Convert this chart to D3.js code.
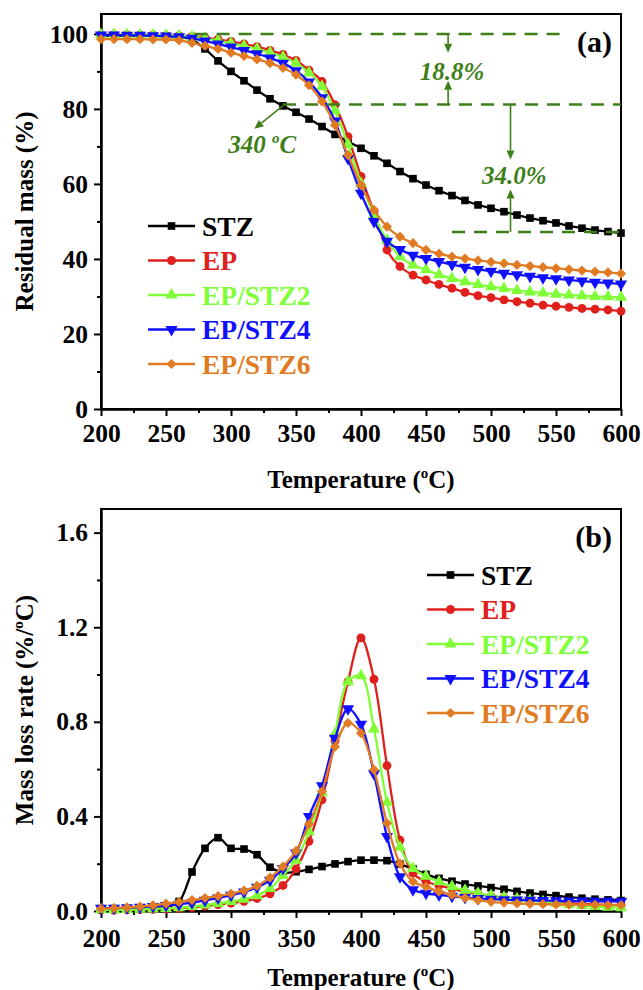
<!DOCTYPE html>
<html>
<head>
<meta charset="utf-8">
<script src="https://cdn.jsdelivr.net/npm/d3@7"></script>
<style>
  html, body { margin: 0; padding: 0; background: #fff; }
  svg text { font-family: "Liberation Serif", "Times New Roman", serif; font-weight: bold; }
</style>
</head>
<body>
<svg id="chart" width="643" height="990"></svg>
<script>
// Temperatures (°C) at which each curve was sampled
const temps = [200,210,220,230,240,250,260,270,280,290,300,310,320,330,340,350,360,370,380,390,400,
               410,420,430,440,450,460,470,480,490,500,510,520,530,540,550,560,570,580,590,600];

const seriesNames = ["STZ", "EP", "EP/STZ2", "EP/STZ4", "EP/STZ6"];

// (a) Residual mass (%)
const massSTZ   = [99.5,99.5,99.5,99.5,99.5,99.4,99.2,98.4,96.0,92.8,90.0,87.5,85.0,82.7,80.8,79.1,77.3,75.3,73.2,71.3,69.5,
                   67.5,65.5,63.3,61.4,59.7,58.2,56.9,55.6,54.4,53.5,52.6,51.7,50.9,50.2,49.6,48.8,48.2,47.7,47.3,46.9];
const massEP    = [99.8,99.8,99.8,99.7,99.7,99.6,99.5,99.3,99.0,98.5,98.0,97.3,96.6,95.6,94.5,92.9,90.3,87.3,81.1,72.6,62.0,
                   52.5,42.4,38.0,35.7,34.4,33.2,32.2,31.1,30.2,29.7,29.1,28.6,28.2,27.7,27.4,27.1,26.8,26.6,26.4,26.1];
const massSTZ2  = [99.8,99.8,99.8,99.7,99.7,99.6,99.5,99.2,98.8,98.2,97.5,96.8,96.0,95.0,93.8,92.2,89.6,86.0,79.5,70.5,60.2,
                   51.7,45.0,40.6,38.4,37.1,35.8,34.8,33.9,33.2,32.6,32.1,31.6,31.2,30.9,30.6,30.4,30.2,30.0,29.9,29.8];
const massSTZ4  = [99.7,99.7,99.6,99.6,99.5,99.4,99.2,98.8,98.1,97.3,96.5,95.6,94.7,93.6,92.2,90.2,87.2,83.0,76.8,66.8,57.5,
                   50.0,44.7,42.5,41.0,40.1,39.3,38.5,37.8,37.2,36.7,36.2,35.8,35.4,35.0,34.7,34.4,34.1,33.8,33.6,33.3];
const massSTZ6  = [98.6,98.6,98.6,98.6,98.5,98.5,98.3,97.6,96.8,96.0,95.0,94.1,93.2,92.2,90.9,89.1,86.3,82.0,75.7,67.7,59.7,
                   53.1,48.6,45.9,44.2,42.4,41.4,40.6,40.1,39.6,39.2,38.8,38.4,38.1,37.8,37.5,37.2,36.9,36.6,36.4,36.1];

// (b) Mass loss rate (%/°C)
const rateSTZ   = [0.010,0.010,0.010,0.010,0.010,0.015,0.040,0.165,0.265,0.310,0.265,0.262,0.238,0.185,0.163,0.166,0.176,0.188,0.199,0.209,0.215,
                   0.215,0.213,0.198,0.178,0.155,0.138,0.126,0.114,0.106,0.099,0.092,0.083,0.076,0.070,0.065,0.059,0.054,0.050,0.047,0.044];
const rateEP    = [0.004,0.004,0.005,0.006,0.007,0.009,0.011,0.015,0.021,0.027,0.033,0.041,0.053,0.073,0.108,0.178,0.295,0.470,0.720,0.970,1.155,
                   0.980,0.615,0.300,0.160,0.125,0.108,0.094,0.082,0.072,0.063,0.056,0.050,0.045,0.040,0.036,0.033,0.030,0.028,0.026,0.025];
const rateSTZ2  = [0.005,0.005,0.006,0.007,0.009,0.011,0.014,0.019,0.025,0.032,0.040,0.050,0.065,0.095,0.150,0.215,0.335,0.500,0.750,0.970,0.995,
                   0.770,0.460,0.270,0.180,0.147,0.124,0.103,0.088,0.075,0.065,0.058,0.052,0.045,0.039,0.033,0.028,0.023,0.019,0.016,0.014];
const rateSTZ4  = [0.012,0.012,0.014,0.016,0.019,0.023,0.028,0.035,0.045,0.055,0.067,0.080,0.100,0.130,0.180,0.245,0.400,0.530,0.730,0.855,0.790,
                   0.580,0.315,0.145,0.090,0.075,0.068,0.062,0.057,0.053,0.050,0.048,0.046,0.045,0.044,0.043,0.042,0.042,0.041,0.041,0.040];
const rateSTZ6  = [0.010,0.012,0.015,0.019,0.024,0.031,0.038,0.046,0.055,0.063,0.073,0.086,0.106,0.141,0.188,0.254,0.367,0.505,0.695,0.795,0.752,
                   0.597,0.371,0.200,0.124,0.103,0.082,0.068,0.055,0.046,0.039,0.035,0.032,0.030,0.029,0.028,0.027,0.026,0.026,0.025,0.025];

// Axis ticks
const xTicks      = [200,250,300,350,400,450,500,550,600];
const xMinorTicks = [225,275,325,375,425,475,525,575];
const yTicksA      = [0,20,40,60,80,100];
const yMinorTicksA = [10,30,50,70,90];
const yTicksB      = [0.0,0.4,0.8,1.2,1.6];
const yMinorTicksB = [0.2,0.6,1.0,1.4];

// Annotation levels in panel (a)
const massLossStep1 = 18.8;
const massLossStep2 = 34.0;
const onsetTemp = 340;

const colors  = ["#000000", "#e0201c", "#80ff38", "#1010ff", "#e07b24"];
const symbols = ["square", "circle", "triangle", "triangleDown", "diamond"];
const annColor = "#3f7f1a";

const svg = d3.select("#chart");
const left = 101, right = 621;

function symbolPath(kind) {
  switch (kind) {
    case "square":       return d3.symbol(d3.symbolSquare, 58)();
    case "circle":       return d3.symbol(d3.symbolCircle, 62)();
    case "triangle":     return d3.symbol(d3.symbolTriangle, 64)();
    case "triangleDown": return d3.symbol(d3.symbolTriangle, 64)();
    case "diamond":      return d3.symbol(d3.symbolSquare, 52)();
  }
}
function symbolRotate(kind) {
  if (kind === "triangleDown") return 180;
  if (kind === "diamond") return 45;
  return 0;
}

function drawPanel(cfg) {
  const x = d3.scaleLinear().domain([200, 600]).range([left, right]);
  const y = d3.scaleLinear().domain(cfg.yDomain).range([cfg.bottom, cfg.top]);
  const g = svg.append("g");

  // frame
  g.append("rect").attr("x", left).attr("y", cfg.top)
    .attr("width", right - left).attr("height", cfg.bottom - cfg.top)
    .attr("fill", "none").attr("stroke", "#000").attr("stroke-width", 2);

  // bottom axis
  const xa = g.append("g").attr("transform", `translate(0,${cfg.bottom})`)
    .call(d3.axisBottom(x).tickValues(xTicks).tickSize(7).tickSizeOuter(0).tickPadding(cfg.xPad));
  const xm = g.append("g").attr("transform", `translate(0,${cfg.bottom})`)
    .call(d3.axisBottom(x).tickValues(xMinorTicks).tickSize(4).tickSizeOuter(0).tickFormat(""));
  // left axis
  const ya = g.append("g").attr("transform", `translate(${left},0)`)
    .call(d3.axisLeft(y).tickValues(cfg.yTicks).tickSize(7).tickSizeOuter(0).tickPadding(6).tickFormat(cfg.yFormat));
  const ym = g.append("g").attr("transform", `translate(${left},0)`)
    .call(d3.axisLeft(y).tickValues(cfg.yMinor).tickSize(4).tickSizeOuter(0).tickFormat(""));
  [xa, xm, ya, ym].forEach(a => {
    a.select(".domain").attr("stroke-width", 2);
    a.selectAll(".tick line").attr("stroke-width", 2);
    a.selectAll("text").attr("font-size", 25.5).attr("fill", "#000")
      .style("font-family", "'Liberation Serif','Times New Roman',serif").style("font-weight", "bold");
  });

  // axis titles
  const xt = g.append("text").attr("x", (left + right) / 2).attr("y", cfg.xTitleY)
    .attr("text-anchor", "middle").attr("font-size", 25);
  xt.append("tspan").text("Temperature (");
  xt.append("tspan").text("o").attr("font-size", 15).attr("dy", -10);
  xt.append("tspan").text("C)").attr("dy", 10);

  const ytg = g.append("g").attr("transform", `translate(33,${(cfg.top + cfg.bottom) / 2}) rotate(-90)`);
  const yt = ytg.append("text").attr("text-anchor", "middle").attr("font-size", 25);
  cfg.yTitle(yt);

  // panel tag
  g.append("text").attr("x", 612).attr("y", cfg.top + 38).attr("text-anchor", "end")
    .attr("font-size", 30).text(cfg.tag);

  // curves
  const clipId = "clip" + cfg.tag.replace(/\W/g, "");
  svg.append("clipPath").attr("id", clipId).append("rect")
    .attr("x", left - 6).attr("y", cfg.top).attr("width", right - left + 12).attr("height", cfg.bottom - cfg.top + 6);
  const plot = g.append("g").attr("clip-path", `url(#${clipId})`);
  const line = d3.line().x(d => x(d[0])).y(d => y(d[1])).curve(cfg.curve);

  cfg.series.forEach((vals, i) => {
    const pts = temps.map((t, k) => [t, vals[k]]);
    plot.append("path").datum(pts).attr("d", line)
      .attr("fill", "none").attr("stroke", colors[i]).attr("stroke-width", 2.3);
    plot.selectAll(null).data(pts).enter().append("path")
      .attr("d", symbolPath(symbols[i]))
      .attr("transform", d => `translate(${x(d[0])},${y(d[1])}) rotate(${symbolRotate(symbols[i])})`)
      .attr("fill", colors[i]);
  });

  // legend
  const lg = g.append("g").attr("transform", `translate(${cfg.legendX},${cfg.legendY})`);
  seriesNames.forEach((name, i) => {
    const row = lg.append("g").attr("transform", `translate(0,${i * 34.5})`);
    row.append("line").attr("x1", 0).attr("x2", 47).attr("y1", 0).attr("y2", 0)
      .attr("stroke", colors[i]).attr("stroke-width", 2.3);
    row.append("path").attr("d", symbolPath(symbols[i]))
      .attr("transform", `translate(23.5,0) rotate(${symbolRotate(symbols[i])})`)
      .attr("fill", colors[i]);
    row.append("text").attr("x", 54).attr("y", 9.5).attr("font-size", 27.5)
      .attr("fill", colors[i]).text(name);
  });

  return { g, x, y };
}

// Panel (a)
const A = drawPanel({
  top: 14, bottom: 409, yDomain: [0, 105.3],
  yTicks: yTicksA, yMinor: yMinorTicksA, yFormat: d3.format("d"),
  xPad: 8, xTitleY: 488, tag: "(a)",
  yTitle: t => t.text("Residual mass (%)"),
  curve: d3.curveMonotoneX,
  series: [massSTZ, massEP, massSTZ2, massSTZ4, massSTZ6],
  legendX: 148, legendY: 226
});

// Panel (b)
const B = drawPanel({
  top: 509, bottom: 911, yDomain: [0, 1.7],
  yTicks: yTicksB, yMinor: yMinorTicksB, yFormat: d3.format(".1f"),
  xPad: 11, xTitleY: 986, tag: "(b)",
  yTitle: t => {
    t.append("tspan").text("Mass loss rate (%/");
    t.append("tspan").text("o").attr("font-size", 15).attr("dy", -10);
    t.append("tspan").text("C)").attr("dy", 10);
  },
  curve: d3.curveCatmullRom.alpha(0.5),
  series: [rateSTZ, rateEP, rateSTZ2, rateSTZ4, rateSTZ6],
  legendX: 427, legendY: 575
});

// Annotations in panel (a): mass loss steps
(function () {
  const { g, x, y } = A;
  const lvl0 = 100, lvl1 = lvl0 - massLossStep1, lvl2 = lvl1 - massLossStep2;
  const ann = g.append("g");
  const dash = (t0, t1, v) => ann.append("line")
    .attr("x1", x(t0)).attr("x2", x(t1)).attr("y1", y(v)).attr("y2", y(v))
    .attr("stroke", annColor).attr("stroke-width", 2.5).attr("stroke-dasharray", "13,9");
  dash(272, 555, lvl0);
  dash(onsetTemp, 600, lvl1);
  dash(470, 600, lvl2);

  // arrow from (x1,y1) to (x2,y2) with head at the end
  function arrow(x1, y1, x2, y2) {
    const ang = Math.atan2(y2 - y1, x2 - x1);
    const hl = 9, hw = 4;
    const bx = x2 - hl * Math.cos(ang), by = y2 - hl * Math.sin(ang);
    ann.append("line").attr("x1", x1).attr("y1", y1).attr("x2", bx).attr("y2", by)
      .attr("stroke", annColor).attr("stroke-width", 1.6);
    const px = -Math.sin(ang) * hw, py = Math.cos(ang) * hw;
    ann.append("path")
      .attr("d", `M${x2},${y2}L${bx + px},${by + py}L${bx - px},${by - py}Z`)
      .attr("fill", annColor);
  }
  const t1 = 467, t2 = 515;
  arrow(x(t1), y(lvl0), x(t1), y(95));
  arrow(x(t1), y(lvl1), x(t1), y(87.5));
  arrow(x(t2), y(lvl1), x(t2), y(66.5));
  arrow(x(t2), y(lvl2), x(t2), y(58.5));
  arrow(x(onsetTemp), y(lvl1 - 0.3), x(318), y(74.7));

  const lab = (t, v, parts) => {
    const tx = ann.append("text").attr("x", x(t)).attr("y", y(v)).attr("text-anchor", "middle")
      .attr("font-size", 25).attr("font-style", "italic").attr("fill", annColor);
    parts(tx);
  };
  lab(470, 87.6, tx => tx.text(massLossStep1.toFixed(1) + "%"));
  lab(518, 60.0, tx => tx.text(massLossStep2.toFixed(1) + "%"));
  lab(324, 68.3, tx => {
    tx.append("tspan").text(onsetTemp + " ");
    tx.append("tspan").text("o").attr("font-size", 15).attr("dy", -10);
    tx.append("tspan").text("C").attr("dy", 10);
  });
})();
</script>
</body>
</html>
